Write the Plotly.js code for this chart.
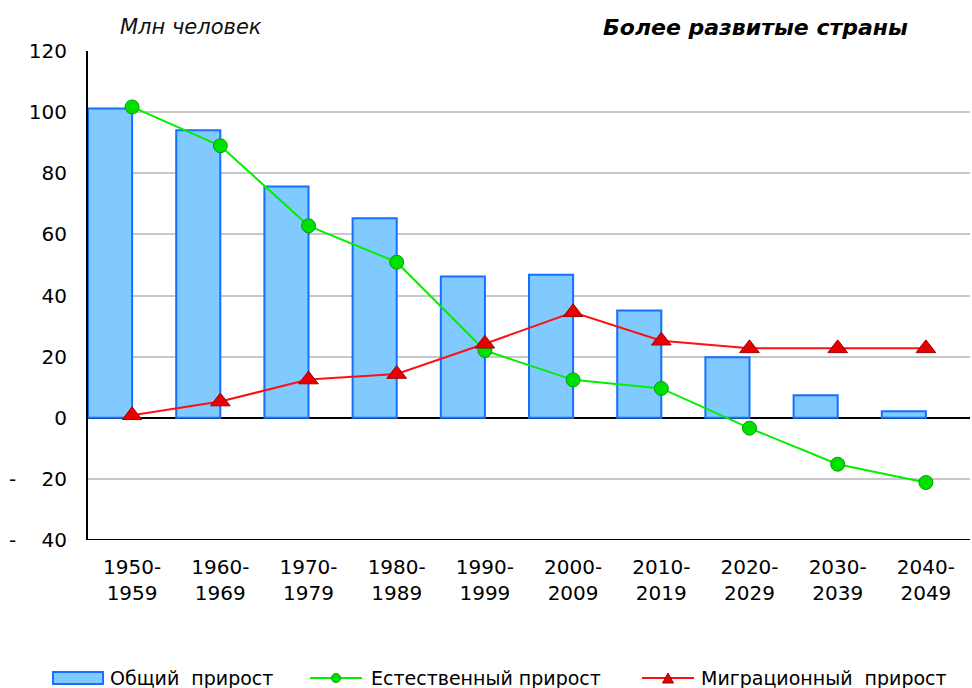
<!DOCTYPE html>
<html>
<head>
<meta charset="utf-8">
<script src="https://cdn.plot.ly/plotly-3.0.1.min.js"></script>
<style>html,body{margin:0;padding:0;background:#fff;}#chart{width:972px;height:688px;}</style>
</head>
<body>
<div id="chart"></div>
<script>
const categories = ['1950-1959','1960-1969','1970-1979','1980-1989','1990-1999','2000-2009','2010-2019','2020-2029','2030-2039','2040-2049'];
const tickLabels = ['1950-<br>1959','1960-<br>1969','1970-<br>1979','1980-<br>1989','1990-<br>1999','2000-<br>2009','2010-<br>2019','2020-<br>2029','2030-<br>2039','2040-<br>2049'];
const totalGrowth = [101.2, 94.1, 75.7, 65.3, 46.2, 46.8, 35.1, 19.8, 7.4, 2.1];
const naturalGrowth = [101.7, 89.0, 62.8, 50.9, 22.0, 12.4, 9.6, -3.4, -15.2, -21.2];
const migrationGrowth = [0.8, 5.3, 12.5, 14.3, 24.2, 34.5, 25.2, 22.7, 22.7, 22.7];
const yTickVals = [-40, -20, 0, 20, 40, 60, 80, 100, 120];
const yTickText = ['-\u00a0\u00a0\u00a0\u00a040','-\u00a0\u00a0\u00a0\u00a020','0','20','40','60','80','100','120'];
const seriesNames = ['Общий\u00a0\u00a0прирост', 'Естественный прирост', 'Миграционный\u00a0\u00a0прирост'];
const unitLabel = 'Млн человек';
const chartTitle = 'Более развитые страны';

const FONT = 'DejaVu Sans, Verdana, sans-serif';
const W = 972, H = 688;
const M = {l: 88, r: 2, t: 51, b: 148};
const PW = W - M.l - M.r, PH = H - M.t - M.b;
const px = v => (v - M.l) / PW;           // pixel x -> paper x
const py = v => (H - M.b - v) / PH;       // pixel y -> paper y

const BAR_FILL = '#80CAFF', BAR_LINE = '#1570FF';
const GREEN_LINE = '#00F000', GREEN_MK = '#00E000', GREEN_MK_LINE = '#00A000';
const RED_LINE = '#FF1010', RED_MK = '#E80000', RED_MK_LINE = '#A00000';

const traces = [
  {
    type: 'bar', name: seriesNames[0], x: categories, y: totalGrowth,
    offset: -0.5, width: 0.5,
    marker: {color: BAR_FILL, line: {color: BAR_LINE, width: 2}}
  },
  {
    type: 'scatter', mode: 'lines+markers', name: seriesNames[1], x: categories, y: naturalGrowth,
    line: {color: GREEN_LINE, width: 2},
    marker: {symbol: 'circle', size: 14, color: GREEN_MK, line: {color: GREEN_MK_LINE, width: 1}}
  },
  {
    type: 'scatter', mode: 'lines+markers', name: seriesNames[2], x: categories, y: migrationGrowth,
    line: {color: RED_LINE, width: 2},
    marker: {symbol: 'triangle-up', size: 17, color: RED_MK, line: {color: RED_MK_LINE, width: 1}}
  }
];

// custom legend (swatches as shapes, labels as annotations)
const LY = 678;
const legendShapes = [
  {type: 'rect', xref: 'paper', yref: 'paper', x0: px(53), x1: px(103), y0: py(684), y1: py(672),
   fillcolor: BAR_FILL, line: {color: BAR_LINE, width: 2}},
  {type: 'line', xref: 'paper', yref: 'paper', x0: px(310), x1: px(362), y0: py(LY), y1: py(LY),
   line: {color: GREEN_LINE, width: 2}},
  {type: 'circle', xref: 'paper', yref: 'paper', x0: px(331.5), x1: px(340.5), y0: py(682.5), y1: py(673.5),
   fillcolor: GREEN_MK, line: {color: GREEN_MK_LINE, width: 1}},
  {type: 'line', xref: 'paper', yref: 'paper', x0: px(642), x1: px(694), y0: py(LY), y1: py(LY),
   line: {color: RED_LINE, width: 2}},
  {type: 'path', xref: 'paper', yref: 'paper',
   path: `M ${px(662.5)},${py(683)} L ${px(673.5)},${py(683)} L ${px(668)},${py(673)} Z`,
   fillcolor: RED_MK, line: {color: RED_MK_LINE, width: 1}},
  // bottom frame line at -40
  {type: 'line', xref: 'paper', yref: 'y', x0: 0, x1: 1, y0: -40, y1: -40, line: {color: '#000', width: 2}}
];
const legendFont = {family: FONT, size: 19, color: '#000'};
const legendAnn = [
  {x: px(108), text: seriesNames[0]},
  {x: px(369), text: seriesNames[1]},
  {x: px(699), text: seriesNames[2]}
].map(a => ({xref: 'paper', yref: 'paper', x: a.x, y: py(LY), xanchor: 'left', yanchor: 'middle',
  text: a.text, showarrow: false, font: legendFont}));

const layout = {
  width: W, height: H,
  margin: M,
  paper_bgcolor: '#fff', plot_bgcolor: '#fff',
  font: {family: FONT, size: 20, color: '#000'},
  showlegend: false,
  xaxis: {
    type: 'category', range: [-0.5, 9.5],
    tickvals: categories, ticktext: tickLabels,
    showgrid: false, showline: false, zeroline: false,
    ticks: '', ticklabelstandoff: 13,
    tickfont: {family: FONT, size: 20, color: '#000'}
  },
  yaxis: {
    range: [-40, 120], tickvals: yTickVals, ticktext: yTickText,
    showgrid: true, gridcolor: '#C8C8C8', gridwidth: 2,
    zeroline: true, zerolinecolor: '#000', zerolinewidth: 2,
    showline: true, linecolor: '#000', linewidth: 2,
    ticks: '', ticklabelstandoff: 15,
    tickfont: {family: FONT, size: 20, color: '#000'}
  },
  shapes: legendShapes,
  annotations: [
    {xref: 'paper', yref: 'paper', x: px(118), y: py(27), xanchor: 'left', yanchor: 'middle',
     text: '<i>' + unitLabel + '</i>', showarrow: false, font: {family: FONT, size: 21, color: '#111'}},
    {xref: 'paper', yref: 'paper', x: px(910), y: py(27), xanchor: 'right', yanchor: 'middle',
     text: '<b><i>' + chartTitle + '</i></b>', showarrow: false, font: {family: FONT, size: 22, color: '#000'}}
  ].concat(legendAnn)
};

Plotly.newPlot('chart', traces, layout, {displayModeBar: false, staticPlot: true});
</script>
</body>
</html>
